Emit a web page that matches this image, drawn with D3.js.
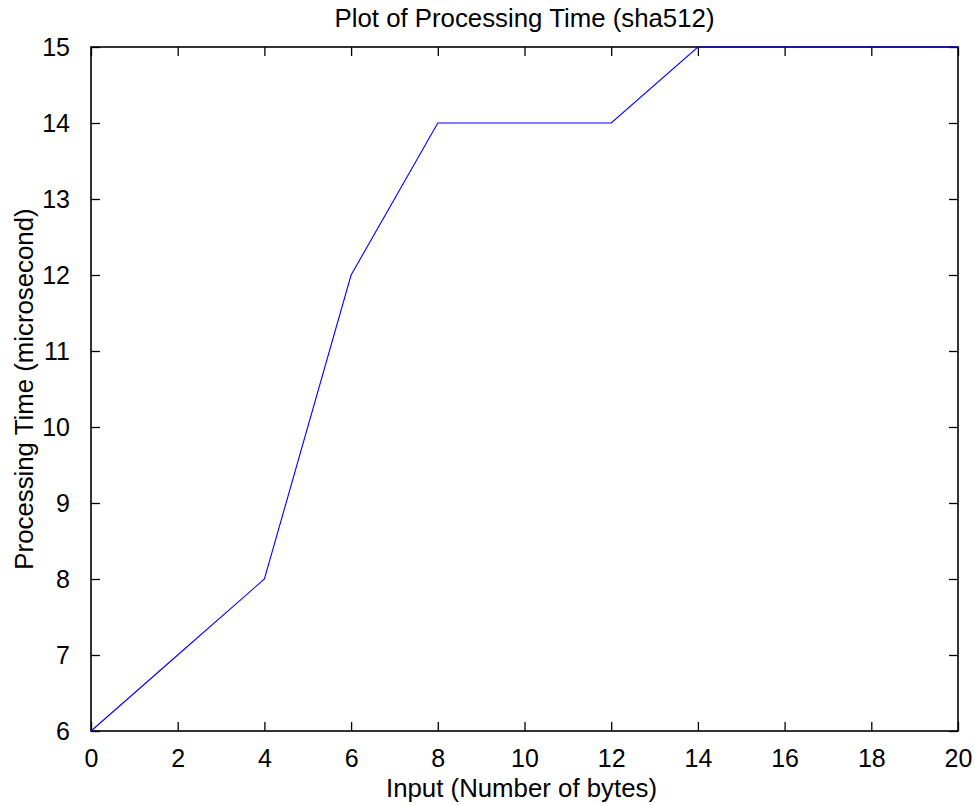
<!DOCTYPE html>
<html>
<head>
<meta charset="utf-8">
<script src="https://cdn.jsdelivr.net/npm/d3@7"></script>
<style>
  body { margin: 0; background: #fff; }
  text { font-family: "Liberation Sans", Arial, sans-serif; fill: #000; }
</style>
</head>
<body>
<svg id="chart" width="975" height="805"></svg>
<script>
// data
const inputBytes = [0, 2, 4, 6, 8, 10, 12, 14, 16, 18, 20];
const procTime   = [6, 7, 8, 12, 14, 14, 14, 15, 15, 15, 15];
const xTicks = [0, 2, 4, 6, 8, 10, 12, 14, 16, 18, 20];
const yTicks = [6, 7, 8, 9, 10, 11, 12, 13, 14, 15];

const titleText = "Plot of Processing Time (sha512)";
const xLabelText = "Input (Number of bytes)";
const yLabelText = "Processing Time (microsecond)";

let svg = d3.select('#chart');
let width = +svg.attr('width');
let height = +svg.attr('height');
let margin = { top: 47, right: 17, bottom: 74, left: 91 };
let tickFont = 25;
let labelFont = 25.8;

let x = d3.scaleLinear()
  .domain([0, 20])
  .range([margin.left, width - margin.right]);
let y = d3.scaleLinear()
  .domain([6, 15])
  .range([height - margin.bottom, margin.top]);

let data = inputBytes.map((d, i) => ({ x: d, y: procTime[i] }));

// ticks point inward on all four sides like matlab's boxed axes
let styleAxis = g => {
  g.select('.domain').remove();
  g.selectAll('.tick line').attr('stroke', '#000').attr('stroke-width', 1.3);
  g.selectAll('.tick text')
    .style('font-size', tickFont + 'px')
    .style('font-family', '"Liberation Sans", Arial, sans-serif');
};

svg.append('g')
  .attr('transform', `translate(0,${height - margin.bottom})`)
  .call(d3.axisBottom(x).tickValues(xTicks).tickFormat(d3.format('d'))
    .tickSize(-9).tickPadding(18))
  .call(styleAxis);

svg.append('g')
  .attr('transform', `translate(0,${margin.top})`)
  .call(d3.axisTop(x).tickValues(xTicks).tickFormat('').tickSize(-9))
  .call(styleAxis);

svg.append('g')
  .attr('transform', `translate(${margin.left},0)`)
  .call(d3.axisLeft(y).tickValues(yTicks).tickFormat(d3.format('d'))
    .tickSize(-9).tickPadding(21))
  .call(styleAxis);

svg.append('g')
  .attr('transform', `translate(${width - margin.right},0)`)
  .call(d3.axisRight(y).tickValues(yTicks).tickFormat('').tickSize(-9))
  .call(styleAxis);

// the box
svg.append('rect')
  .attr('x', margin.left)
  .attr('y', margin.top)
  .attr('width', width - margin.left - margin.right)
  .attr('height', height - margin.top - margin.bottom)
  .attr('fill', 'none')
  .attr('stroke', '#000')
  .attr('stroke-width', 1.6);

let line = d3.line()
  .x(d => x(d.x))
  .y(d => y(d.y));

svg.append('path')
  .datum(data)
  .attr('fill', 'none')
  .attr('stroke', '#0000ff')
  .attr('stroke-width', 1.1)
  .attr('d', line);

svg.append('text')
  .attr('x', (margin.left + width - margin.right) / 2)
  .attr('y', 27)
  .attr('text-anchor', 'middle')
  .style('font-size', labelFont + 'px')
  .text(titleText);

svg.append('text')
  .attr('x', (margin.left + width - margin.right) / 2 - 3)
  .attr('y', 797)
  .attr('text-anchor', 'middle')
  .style('font-size', labelFont + 'px')
  .text(xLabelText);

svg.append('text')
  .attr('transform', `translate(33,${(margin.top + height - margin.bottom) / 2}) rotate(-90)`)
  .attr('text-anchor', 'middle')
  .style('font-size', labelFont + 'px')
  .text(yLabelText);
</script>
</body>
</html>
